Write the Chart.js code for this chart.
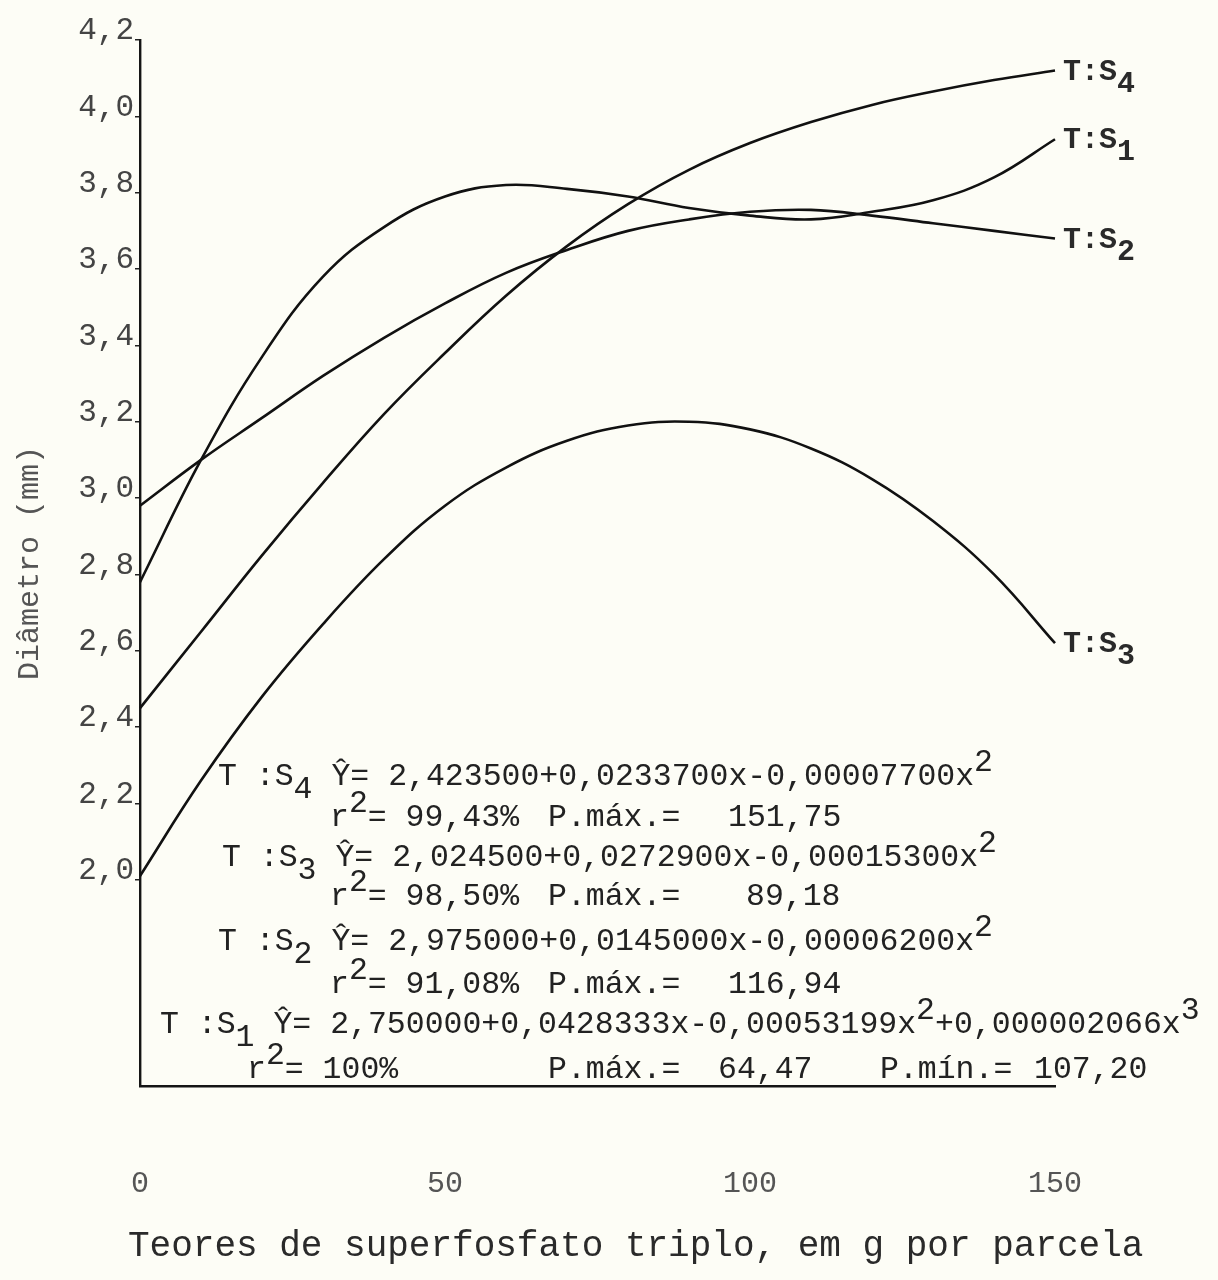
<!DOCTYPE html>
<html lang="pt">
<head>
<meta charset="utf-8">
<title>Diâmetro x superfosfato triplo</title>
<script src="https://cdn.jsdelivr.net/npm/chart.js@4.4.1/dist/chart.umd.min.js"></script>
<style>
  html, body { margin: 0; padding: 0; background: #fdfdf6; }
  #wrap { position: relative; width: 1218px; height: 1280px; }
</style>
</head>
<body>
<div id="wrap"><canvas id="diametro"></canvas></div>
<script>
// doses of triple superphosphate (g per plot)
const doses = [0, 10, 20, 30, 40, 50, 60, 70, 80, 90, 100, 110, 120, 130, 140, 150];

// stem diameter (mm) for each treatment
const tS4 = [2.45, 2.65, 2.85, 3.04, 3.22, 3.38, 3.53, 3.66, 3.77, 3.86, 3.93, 3.985, 4.03, 4.065, 4.095, 4.12];
const tS1 = [2.78, 3.10, 3.37, 3.58, 3.71, 3.79, 3.82, 3.81, 3.79, 3.76, 3.74, 3.73, 3.75, 3.78, 3.84, 3.94];
const tS2 = [2.98, 3.10, 3.21, 3.32, 3.42, 3.51, 3.59, 3.65, 3.70, 3.73, 3.75, 3.755, 3.74, 3.72, 3.70, 3.68];
const tS3 = [2.01, 2.26, 2.48, 2.67, 2.84, 2.98, 3.08, 3.15, 3.19, 3.20, 3.18, 3.13, 3.05, 2.94, 2.80, 2.62];

const seriesSub = ['4', '1', '2', '3'];
const yTicks = [2.0, 2.2, 2.4, 2.6, 2.8, 3.0, 3.2, 3.4, 3.6, 3.8, 4.0, 4.2];
const xTicks = [0, 50, 100, 150];
const xTitle = 'Teores de superfosfato triplo, em g por parcela';

// regression notes typed under the curves ('_' = subscript, '^' = superscript)
const notes = [
  [[218, 785, ['T :S', '_4', ' Ŷ= 2,423500+0,0233700x-0,00007700x', '^2']]],
  [[330, 826, ['r', '^2', '= 99,43%']], [548, 826, ['P.máx.=']], [728, 826, ['151,75']]],
  [[222, 866, ['T :S', '_3', ' Ŷ= 2,024500+0,0272900x-0,00015300x', '^2']]],
  [[330, 905, ['r', '^2', '= 98,50%']], [548, 905, ['P.máx.=']], [746, 905, ['89,18']]],
  [[218, 950, ['T :S', '_2', ' Ŷ= 2,975000+0,0145000x-0,00006200x', '^2']]],
  [[330, 993, ['r', '^2', '= 91,08%']], [548, 993, ['P.máx.=']], [728, 993, ['116,94']]],
  [[160, 1033, ['T :S', '_1', ' Ŷ= 2,750000+0,0428333x-0,00053199x', '^2', '+0,000002066x', '^3']]],
  [[247, 1078, ['r', '^2', '= 100%']], [548, 1078, ['P.máx.=']], [718, 1078, ['64,47']],
   [880, 1078, ['P.mín.=']], [1034, 1078, ['107,20']]]
];

const MONO = '"Liberation Mono", "DejaVu Sans Mono", monospace';

function typeRun(ctx, x, y, parts, size) {
  let cx = x;
  for (const p of parts) {
    let t = p, dy = 0;
    if (p[0] === '_') { t = p.slice(1); dy = size * 0.4; }
    else if (p[0] === '^') { t = p.slice(1); dy = -size * 0.45; }
    ctx.fillText(t, cx, y + dy);
    cx += ctx.measureText(t).width;
  }
}

const paper = {
  id: 'paper',
  beforeDraw(chart) {
    const { ctx, width, height } = chart;
    ctx.save();
    ctx.fillStyle = '#fdfdf6';
    ctx.fillRect(0, 0, width, height);
    ctx.restore();
  }
};

const typed = {
  id: 'typed',
  afterDatasetsDraw(chart) {
    const { ctx } = chart;
    ctx.save();
    ctx.textBaseline = 'alphabetic';
    ctx.textAlign = 'left';

    // curve names at the end of each line
    ctx.font = 'bold 30px ' + MONO;
    ctx.fillStyle = '#2a2a2a';
    chart.data.datasets.forEach((ds, i) => {
      const pts = chart.getDatasetMeta(i).data;
      const last = pts[pts.length - 1];
      typeRun(ctx, last.x + 8, last.y + 9, ['T:S', '_' + seriesSub[i]], 30);
    });

    // equations
    ctx.font = '31.5px ' + MONO;
    ctx.fillStyle = '#222';
    for (const line of notes) {
      for (const [x, y, parts] of line) typeRun(ctx, x, y, parts, 31.5);
    }

    // axis caption, typed wider than the axis itself
    ctx.font = '36px ' + MONO;
    ctx.fillStyle = '#2a2a2a';
    ctx.fillText(xTitle, 128, 1256);
    ctx.restore();
  }
};

const lineStyle = {
  borderColor: '#111',
  borderWidth: 2.6,
  pointRadius: 0,
  fill: false,
  tension: 0.4,
  clip: false
};

new Chart(document.getElementById('diametro'), {
  type: 'line',
  data: {
    labels: doses,
    datasets: [
      { label: 'T:S4', data: doses.map((d, i) => ({ x: d, y: tS4[i] })), ...lineStyle },
      { label: 'T:S1', data: doses.map((d, i) => ({ x: d, y: tS1[i] })), ...lineStyle },
      { label: 'T:S2', data: doses.map((d, i) => ({ x: d, y: tS2[i] })), ...lineStyle },
      { label: 'T:S3', data: doses.map((d, i) => ({ x: d, y: tS3[i] })), ...lineStyle }
    ]
  },
  options: {
    responsive: true,
    maintainAspectRatio: false,
    animation: false,
    layout: { padding: { top: 40, right: 163, bottom: 0, left: 0 } },
    plugins: {
      legend: { display: false },
      tooltip: { enabled: false }
    },
    scales: {
      x: {
        type: 'linear',
        min: 0,
        max: 150,
        afterBuildTicks: (s) => { s.ticks = xTicks.map(v => ({ value: v })); },
        afterFit: (s) => { s.height = 194; },
        grid: { display: false, drawTicks: false },
        border: { color: '#151515', width: 2.6 },
        ticks: {
          padding: 80,
          color: '#555',
          font: { family: MONO, size: 30 },
          maxRotation: 0
        }
      },
      y: {
        type: 'linear',
        min: 1.46,
        max: 4.2,
        afterBuildTicks: (s) => { s.ticks = yTicks.map(v => ({ value: v })); },
        afterFit: (s) => { s.width = 140; },
        grid: { drawOnChartArea: false, drawTicks: true, tickLength: 5, color: '#222', lineWidth: 1.5 },
        border: { color: '#151515', width: 2.4 },
        ticks: {
          padding: 1,
          labelOffset: -9,
          color: '#444',
          font: { family: MONO, size: 31 },
          callback: (v) => Number(v).toFixed(1).replace('.', ',')
        },
        title: {
          display: true,
          text: 'Diâmetro (mm)',
          color: '#555',
          font: { family: MONO, size: 30 },
          padding: { top: 12, bottom: 0 }
        }
      }
    }
  },
  plugins: [paper, typed]
});
</script>
</body>
</html>
